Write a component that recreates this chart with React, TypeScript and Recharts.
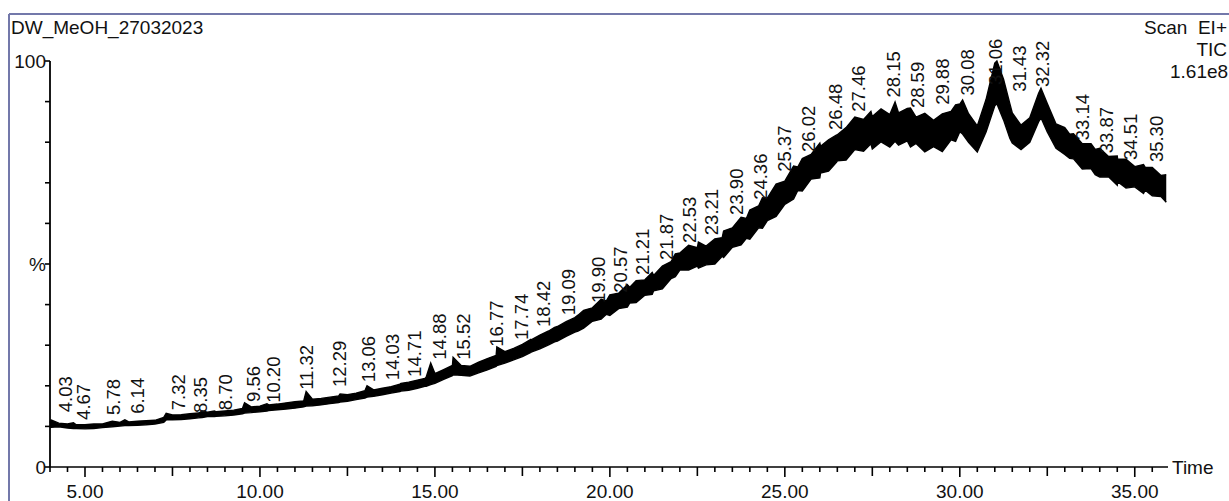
import React from "react";
import { ComposedChart, Area, Scatter, XAxis, YAxis } from "recharts";

// Retention time (min) of each sampled point of the TIC trace
const TIME = [
  4.0, 4.03, 4.25, 4.5, 4.67, 4.75, 5.0, 5.25, 5.5, 5.78, 6.0, 6.14, 6.25, 6.5, 6.75, 7.0, 7.25, 7.32, 7.5, 7.75,
  8.0, 8.25, 8.35, 8.5, 8.7, 8.75, 9.0, 9.25, 9.5, 9.56, 9.75, 10.0, 10.2, 10.25, 10.5, 10.75, 11.0, 11.25, 11.32, 11.5,
  11.75, 12.0, 12.25, 12.29, 12.5, 12.75, 13.0, 13.06, 13.25, 13.5, 13.75, 14.0, 14.03, 14.25, 14.5, 14.71, 14.75, 14.88, 15.0, 15.25,
  15.5, 15.52, 15.75, 16.0, 16.25, 16.5, 16.75, 16.77, 17.0, 17.25, 17.5, 17.74, 17.75, 18.0, 18.25, 18.42, 18.5, 18.75, 19.0, 19.09,
  19.25, 19.5, 19.75, 19.9, 20.0, 20.25, 20.5, 20.57, 20.75, 21.0, 21.21, 21.25, 21.5, 21.75, 21.87, 22.0, 22.25, 22.5, 22.53, 22.75,
  23.0, 23.21, 23.25, 23.5, 23.75, 23.9, 24.0, 24.25, 24.36, 24.5, 24.75, 25.0, 25.25, 25.37, 25.5, 25.75, 26.0, 26.02, 26.25, 26.48,
  26.5, 26.75, 27.0, 27.25, 27.46, 27.5, 27.75, 28.0, 28.15, 28.25, 28.5, 28.59, 28.75, 29.0, 29.25, 29.5, 29.75, 29.88, 30.0, 30.08,
  30.25, 30.5, 30.75, 31.0, 31.06, 31.25, 31.43, 31.5, 31.75, 32.0, 32.25, 32.32, 32.5, 32.75, 33.0, 33.14, 33.25, 33.5, 33.75, 33.87,
  34.0, 34.25, 34.5, 34.51, 34.75, 35.0, 35.25, 35.3, 35.5, 35.75, 35.9,
];

// Lower edge of the noisy trace (% of 1.61e8)
const LOW = [
  9.7, 9.8, 9.9, 9.6, 9.5, 9.5, 9.4, 9.5, 9.7, 9.9, 10.1, 10.2, 10.2, 10.3, 10.4, 10.6, 11.0, 11.6, 11.6, 11.7,
  11.9, 12.1, 12.2, 12.4, 12.4, 12.5, 12.6, 12.8, 13.1, 13.3, 13.4, 13.6, 13.8, 13.9, 14.1, 14.3, 14.5, 14.8, 15.0, 15.1,
  15.3, 15.6, 15.9, 16.0, 16.2, 16.6, 17.0, 17.2, 17.4, 17.8, 18.2, 18.6, 18.7, 18.9, 19.4, 19.9, 19.9, 20.3, 20.6, 21.6,
  22.5, 22.7, 22.6, 22.4, 23.2, 23.9, 24.8, 25.0, 25.6, 26.4, 27.2, 28.2, 28.3, 29.1, 30.1, 30.8, 31.0, 32.2, 33.2, 33.5,
  34.2, 35.9, 36.4, 37.6, 37.3, 39.0, 39.4, 40.4, 40.5, 42.3, 42.5, 43.4, 43.9, 46.4, 46.9, 48.5, 48.5, 49.5, 49.0, 49.8,
  50.0, 51.9, 51.6, 54.1, 54.7, 56.3, 56.1, 58.9, 58.8, 60.7, 61.7, 64.7, 66.0, 68.1, 68.0, 70.9, 71.2, 72.4, 72.9, 75.1,
  75.4, 75.6, 78.2, 77.8, 79.6, 78.3, 80.1, 78.8, 80.2, 79.3, 80.3, 78.8, 79.7, 77.6, 78.9, 77.7, 80.6, 80.2, 82.6, 82.0,
  80.0, 77.6, 82.5, 89.0, 89.5, 85.5, 81.0, 79.8, 78.2, 80.0, 85.0, 86.0, 82.5, 78.5, 77.0, 76.0, 75.9, 73.4, 73.5, 72.0,
  71.4, 71.5, 69.4, 70.3, 68.7, 69.0, 67.4, 68.2, 66.8, 66.6, 65.2,
];

// Upper edge of the noisy trace (% of 1.61e8)
const HIGH = [
  10.9, 11.6, 10.8, 10.6, 10.9, 10.4, 10.4, 10.6, 10.6, 11.3, 11.0, 11.6, 11.1, 11.3, 11.4, 11.5, 12.2, 13.2, 12.8, 12.9,
  13.1, 13.3, 13.8, 13.5, 13.8, 13.6, 13.8, 14.0, 14.4, 15.8, 14.8, 15.0, 15.6, 15.3, 15.5, 15.8, 16.1, 16.3, 18.6, 16.7,
  16.9, 17.2, 17.5, 18.0, 17.8, 18.2, 18.8, 20.0, 19.0, 19.4, 19.8, 20.4, 20.6, 20.9, 21.4, 21.8, 22.1, 25.6, 23.0, 24.0,
  25.0, 27.0, 25.0, 24.8, 25.8, 26.7, 27.5, 29.6, 28.4, 29.2, 30.2, 31.4, 31.3, 32.5, 33.5, 34.4, 34.6, 35.8, 36.8, 37.4,
  38.6, 39.2, 41.3, 40.9, 42.4, 42.8, 44.9, 44.3, 45.9, 46.1, 47.9, 47.2, 49.5, 50.6, 52.5, 52.7, 54.6, 54.0, 55.4, 54.4,
  56.2, 56.5, 58.1, 58.9, 61.5, 61.2, 63.3, 64.3, 66.3, 66.2, 69.7, 70.4, 74.1, 73.9, 76.0, 77.0, 79.8, 79.0, 80.6, 81.8,
  81.8, 83.6, 86.2, 85.6, 87.6, 86.3, 88.2, 86.8, 89.9, 87.2, 88.3, 88.4, 86.2, 87.1, 85.4, 87.0, 87.6, 89.2, 89.4, 90.4,
  87.0, 84.0, 90.5, 99.5, 100.0, 95.5, 89.5, 87.2, 84.2, 86.0, 92.0, 93.3, 89.5, 84.5, 83.6, 82.0, 82.1, 79.6, 79.6, 78.2,
  78.5, 76.5, 76.6, 75.8, 75.8, 74.0, 74.5, 73.8, 73.8, 71.8, 72.0,
];

// Peak annotations: text, where the text sits along time, and its lower end (%)
const PEAK_LABELS = [
  "4.03", "4.67", "5.78", "6.14", "7.32", "8.35", "8.70", "9.56", "10.20", "11.32", "12.29", "13.06", "14.03", "14.71",
  "14.88", "15.52", "16.77", "17.74", "18.42", "19.09", "19.90", "20.57", "21.21", "21.87", "22.53", "23.21", "23.90",
  "24.36", "25.37", "26.02", "26.48", "27.46", "28.15", "28.59", "29.88", "30.08", "31.06", "31.43", "32.32", "33.14",
  "33.87", "34.51", "35.30",
];
const LABEL_T = [
  4.43, 4.94, 5.8, 6.49, 7.66, 8.29, 9.0, 9.8, 10.37, 11.34, 12.26, 13.11, 13.77, 14.4,
  15.14, 15.8, 16.77, 17.46, 18.11, 18.8, 19.66, 20.29, 20.94, 21.6, 22.26, 22.91, 23.6,
  24.29, 25.0, 25.66, 26.43, 27.09, 28.09, 28.8, 29.51, 30.23, 31.03, 31.71, 32.37, 33.49,
  34.2, 34.86, 35.63,
];
const LABEL_Y = [
  13.5, 11.6, 12.8, 13.1, 14.0, 13.3, 14.0, 16.0, 15.8, 19.0, 19.7, 20.9, 21.4, 22.2,
  26.4, 26.4, 29.6, 31.3, 34.5, 37.4, 40.4, 42.9, 47.3, 51.0, 55.2, 57.1, 62.1,
  65.8, 72.7, 77.6, 83.0, 87.5, 91.0, 88.4, 89.2, 91.5, 94.1, 92.4, 93.6, 80.5,
  77.3, 75.6, 75.1,
];

const X_TICKS = Array.from({ length: 64 }, (_, i) => 4 + i * 0.5);
const X_TICK_LABELS: Record<string, string> = {
  "5": "5.00", "10": "10.00", "15": "15.00", "20": "20.00", "25": "25.00", "30": "30.00", "35": "35.00",
};
const Y_TICKS = [0, 10, 20, 30, 40, 50, 60, 70, 80, 90, 100];
const Y_TICK_LABELS: Record<string, string> = { "0": "0", "50": "%", "100": "100" };

const TITLE = "DW_MeOH_27032023";
const SCAN = "Scan\u00a0 EI+";
const TIC = "TIC";
const SCALE = "1.61e8";
const X_NAME = "Time";

const FONT = "'Liberation Sans', Arial, Helvetica, sans-serif";

const traceData = TIME.map((t, i) => ({ t, range: [LOW[i], HIGH[i]] }));
const labelData = PEAK_LABELS.map((text, i) => ({ t: LABEL_T[i], y: LABEL_Y[i], text }));

function XTick(props: any) {
  const { x, y, payload } = props;
  const v: number = payload.value;
  const major = Math.abs(v % 5) < 1e-6;
  const mid = Math.abs(v % 2.5) < 1e-6;
  const len = major ? 10 : mid ? 9 : 5;
  const label = major ? X_TICK_LABELS[String(v)] : undefined;
  return (
    <g>
      <line x1={x} x2={x} y1={y} y2={y + len} stroke="#000" strokeWidth={1.6} />
      {label ? (
        <text x={x} y={y + 31} textAnchor="middle" fontSize={19} fontFamily={FONT} fill="#111">
          {label}
        </text>
      ) : null}
    </g>
  );
}

function YTick(props: any) {
  const { x, y, payload } = props;
  const label = Y_TICK_LABELS[String(payload.value)];
  return (
    <g>
      <line x1={x - 5} x2={x} y1={y} y2={y} stroke="#000" strokeWidth={1.6} />
      {label ? (
        <text x={x - 4} y={y + 7} textAnchor="end" fontSize={19} fontFamily={FONT} fill="#111">
          {label}
        </text>
      ) : null}
    </g>
  );
}

function PeakLabel(props: any) {
  const { cx, cy, payload } = props;
  if (cx == null || cy == null) return null;
  return (
    <text
      x={cx}
      y={cy}
      dy="0.36em"
      transform={`rotate(-90 ${cx} ${cy})`}
      textAnchor="start"
      fontSize={18.5}
      fontFamily={FONT}
      fill="#111"
    >
      {payload.text}
    </text>
  );
}

export default function App() {
  return (
    <div style={{ position: "absolute", left: 0, top: 0, width: 1229, height: 501, background: "#fff", overflow: "hidden" }}>
      <ComposedChart
        width={1229}
        height={501}
        data={traceData}
        margin={{ top: 61, right: 61, bottom: 0, left: 0 }}
      >
        <XAxis
          dataKey="t"
          type="number"
          domain={[4, 35.95]}
          ticks={X_TICKS}
          interval={0}
          tick={<XTick />}
          tickLine={false}
          tickSize={0}
          tickMargin={0}
          height={34}
          axisLine={{ stroke: "#000", strokeWidth: 1.6 }}
        />
        <YAxis
          type="number"
          domain={[0, 100]}
          ticks={Y_TICKS}
          interval={0}
          tick={<YTick />}
          tickLine={false}
          tickSize={0}
          tickMargin={0}
          width={50}
          axisLine={{ stroke: "#000", strokeWidth: 1.8 }}
        />
        <Area
          dataKey="range"
          type="linear"
          stroke="#000"
          strokeWidth={1.4}
          fill="#000"
          fillOpacity={1}
          dot={false}
          activeDot={false}
          isAnimationActive={false}
        />
        <Scatter data={labelData} dataKey="y" shape={<PeakLabel />} isAnimationActive={false} />
      </ComposedChart>
      <svg
        width={1229}
        height={501}
        style={{ position: "absolute", left: 0, top: 0, pointerEvents: "none" }}
      >
        <line x1={9} y1={14} x2={1229} y2={14} stroke="#7378aa" strokeWidth={2} />
        <line x1={9} y1={14} x2={9} y2={501} stroke="#7378aa" strokeWidth={2} />
        <text x={11} y={34} fontSize={19} fontFamily={FONT} fill="#111">{TITLE}</text>
        <text x={1227} y={34} textAnchor="end" fontSize={19} fontFamily={FONT} fill="#111">{SCAN}</text>
        <text x={1227} y={56} textAnchor="end" fontSize={19} fontFamily={FONT} fill="#111">{TIC}</text>
        <text x={1170} y={78} fontSize={19} fontFamily={FONT} fill="#111">{SCALE}</text>
        <text x={1172} y={474} fontSize={19} fontFamily={FONT} fill="#111">{X_NAME}</text>
      </svg>
    </div>
  );
}
